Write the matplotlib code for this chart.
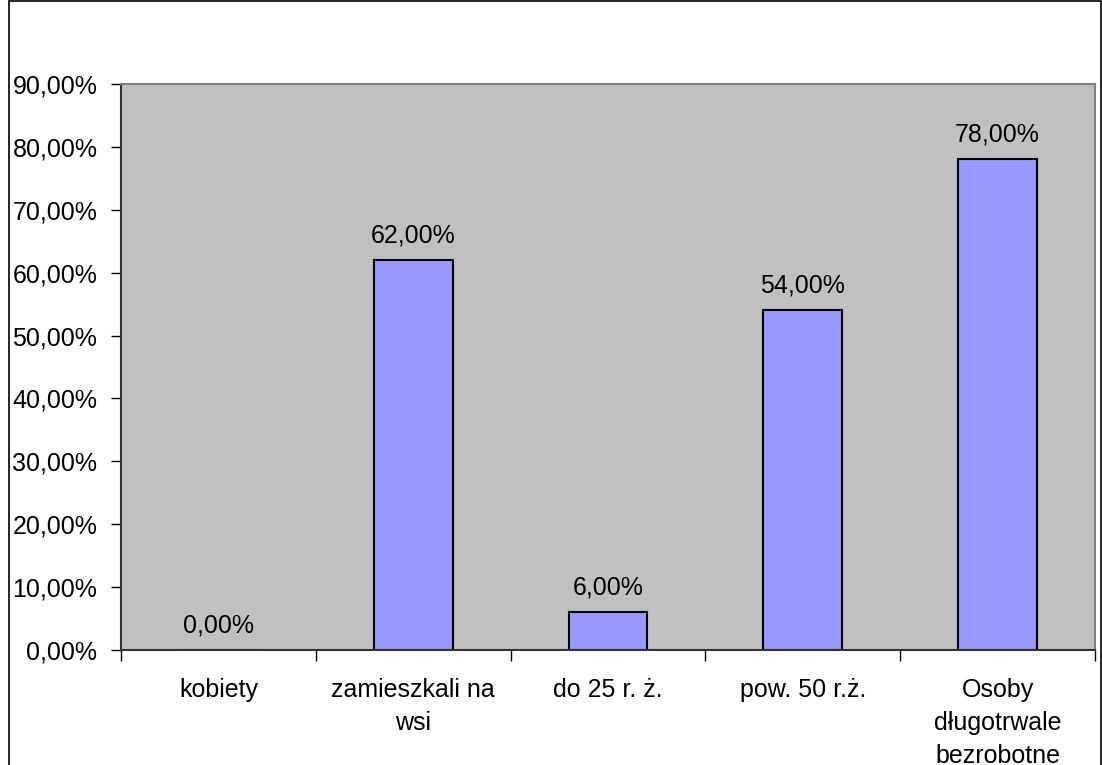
import numpy as np
import matplotlib.pyplot as plt
from matplotlib.ticker import FuncFormatter
from matplotlib.patches import Rectangle

plt.rcParams['font.family'] = ['Liberation Sans', 'DejaVu Sans']

# Dane
kategorie = ['kobiety', 'zamieszkali na\nwsi', 'do 25 r. ż.', 'pow. 50 r.ż.',
             'Osoby\ndługotrwale\nbezrobotne']
wartosci = [0.0, 62.0, 6.0, 54.0, 78.0]

FS = 18

W, H = 1102, 765
fig = plt.figure(figsize=(W / 100, H / 100), dpi=100)
ax = fig.add_axes([121 / W, 1 - 650 / H, (1095 - 121) / W, (650 - 84) / H])

ax.set_facecolor('#C0C0C0')
x = np.arange(len(kategorie))
ax.bar(x, wartosci, width=0.405, color='#9999FF', edgecolor='black', linewidth=1.5, zorder=2)

for xi, v in zip(x, wartosci):
    ax.text(xi, v + 2.0, f'{v:.2f}%'.replace('.', ','), ha='center', va='bottom', fontsize=FS)

ax.set_xlim(-0.5, len(kategorie) - 0.5)
ax.set_ylim(0, 90)
ax.set_yticks(np.arange(0, 91, 10))
ax.yaxis.set_major_formatter(FuncFormatter(lambda v, p: f'{v:.2f}%'.replace('.', ',')))

# podzialki osi X miedzy kategoriami
ax.set_xticks(np.arange(-0.5, len(kategorie), 1.0))
ax.set_xticklabels([])
ax.set_xticks(x, minor=True)
ax.set_xticklabels(kategorie, minor=True, fontsize=FS, linespacing=1.46, va='top')
ax.tick_params(axis='x', which='minor', length=0, pad=20.5)
ax.tick_params(axis='x', which='major', length=8, width=1, color='black', direction='out')
ax.tick_params(axis='y', length=7, width=1, direction='out', labelsize=FS, pad=10)

for s in ['top', 'right']:
    ax.spines[s].set_color('#808080')
    ax.spines[s].set_linewidth(1.5)
for s in ['left', 'bottom']:
    ax.spines[s].set_color('#333333')
    ax.spines[s].set_linewidth(1.5)

# ramka wykresu
fig.patches.append(Rectangle((9 / W, -0.01), (W - 10) / W, 1.0 - 1 / H + 0.01,
                             transform=fig.transFigure, fill=False,
                             edgecolor='black', linewidth=1.2))

plt.savefig('out.png', dpi=100)
